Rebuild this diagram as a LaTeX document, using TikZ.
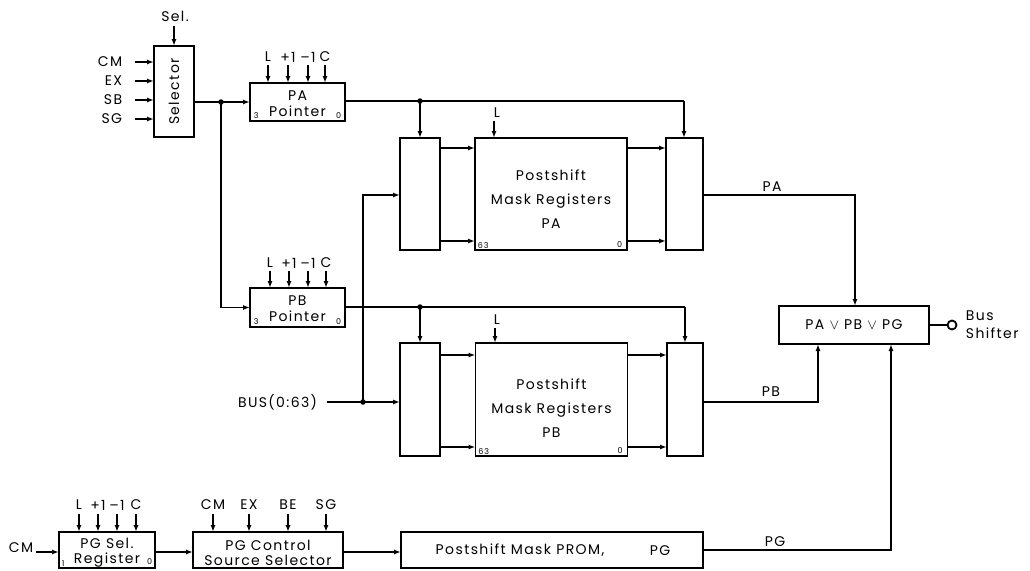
\documentclass[tikz,border=0pt]{standalone}
\usepackage{fontspec}
\setmainfont{Poppins}[LetterSpace=10]
\usetikzlibrary{arrows.meta,calc}
\begin{document}
\begin{tikzpicture}[x=1pt,y=-1pt,
  line width=1.8pt,
  box/.style={draw, line width=1.8pt, inner sep=0pt, outer sep=0pt, align=center,
    font=\fontsize{14}{16}\selectfont},
  arr/.style={-{Latex[length=7pt,width=5pt]}, line width=1.8pt},
  ln/.style={line width=1.8pt},
  lbl/.style={font=\fontsize{14}{16}\selectfont, inner sep=0pt, align=center},
  small/.style={font=\fontsize{8}{8}\selectfont, inner sep=0pt},
  dot/.style={circle, fill, inner sep=0pt, minimum size=5.5pt},
  ring/.style={circle, draw, line width=1.8pt, inner sep=0pt, minimum size=9pt}]
\useasboundingbox (0,0) rectangle (1030,570);

% ---------------- Selector ----------------
\node[box, minimum width=40pt, minimum height=91pt] (sel) at (174,91.5) {};
\node[lbl, rotate=90] (seltxt) at (sel) {Selector};
\node[lbl] (sellbl) at (175,16) {Sel.};
\draw[arr] ([yshift=-4pt]sellbl.south -| sel.north) -- (sel.north);
\foreach \lab/\yy in {CM/62,EX/81,SB/100,SG/119}{
  \node[lbl, anchor=east] (in\lab) at (123,\yy) {\lab};
  \draw[arr] ([xshift=12pt]in\lab.east) -- (in\lab.east -| sel.west);
}

% ---------------- PA pointer ----------------
\node[box, minimum width=95pt, minimum height=38pt] (paptr) at (297.5,102) {};
\node[lbl, font=\fontsize{14}{16}\selectfont] (paptrtxt) at (297.5,104) {PA\\Pointer};
\node[small, anchor=south west] (pa3) at ([shift={(3pt,2pt)}]paptr.south west) {3};
\node[small, anchor=south east] (pa0) at ([shift={(-3pt,2pt)}]paptr.south east) {0};
\foreach \lab/\xx/\k in {L/268/a,+1/288/b,–1/308/c,C/325/d}{
  \node[lbl] (pain\k) at (\xx,57) {\lab};
  \draw[arr] (\xx,65) -- (\xx,0 |- paptr.north);
}

% ---------------- PB pointer ----------------
\node[box, minimum width=95pt, minimum height=39pt] (pbptr) at (297.5,307.5) {};
\node[lbl, font=\fontsize{14}{16}\selectfont] (pbptrtxt) at (297.5,309) {PB\\Pointer};
\node[small, anchor=south west] (pb3) at ([shift={(3pt,2pt)}]pbptr.south west) {3};
\node[small, anchor=south east] (pb0) at ([shift={(-3pt,2pt)}]pbptr.south east) {0};
\foreach \lab/\xx/\k in {L/270/a,+1/289/b,–1/308/c,C/326/d}{
  \node[lbl] (pbin\k) at (\xx,263) {\lab};
  \draw[arr] (\xx,271) -- (\xx,0 |- pbptr.north);
}

% ---------------- Register group A ----------------
\node[box, minimum width=40pt, minimum height=112pt] (muxA1) at (420,194) {};
\node[box, minimum width=152pt, minimum height=112pt] (regA) at (551,194) {};
\node[box, minimum width=37pt, minimum height=112pt] (muxA2) at (684.5,194) {};
\node[lbl, font=\fontsize{14}{24}\selectfont] (regAtxt) at (551,199) {Postshift\\Mask Registers\\PA};
\node[small, anchor=south west] (regA63) at ([shift={(2pt,1pt)}]regA.south west) {63};
\node[small, anchor=south east] (regA0) at ([shift={(-4pt,2pt)}]regA.south east) {0};
\node[lbl] (regAL) at (497,113) {L};
\draw[arr] (494,121) -- (494,0 |- regA.north);
\draw[arr] (muxA1.east |- 0,148) -- (regA.west |- 0,148);
\draw[arr] (muxA1.east |- 0,241) -- (regA.west |- 0,241);
\draw[arr] (regA.east |- 0,148) -- (muxA2.west |- 0,148);
\draw[arr] (regA.east |- 0,241) -- (muxA2.west |- 0,241);

% ---------------- Register group B ----------------
\node[box, minimum width=40pt, minimum height=113pt] (muxB1) at (420,399.5) {};
\node[box, minimum width=152pt, minimum height=113pt] (regB) at (551.5,399.5) {};
\node[box, minimum width=36pt, minimum height=113pt] (muxB2) at (685,399.5) {};
\node[lbl, font=\fontsize{14}{24}\selectfont] (regBtxt) at (551.5,408) {Postshift\\Mask Registers\\PB};
\node[small, anchor=south west] (regB63) at ([shift={(2pt,1pt)}]regB.south west) {63};
\node[small, anchor=south east] (regB0) at ([shift={(-4pt,2pt)}]regB.south east) {0};
\node[lbl] (regBL) at (497,320) {L};
\draw[arr] (495,328) -- (495,0 |- regB.north);
\draw[arr] (muxB1.east |- 0,355) -- (regB.west |- 0,355);
\draw[arr] (muxB1.east |- 0,447) -- (regB.west |- 0,447);
\draw[arr] (regB.east |- 0,355) -- (muxB2.west |- 0,355);
\draw[arr] (regB.east |- 0,447) -- (muxB2.west |- 0,447);

% ---------------- Selector -> pointers ----------------
\coordinate (j1) at (221,102);
\draw[arr] (sel.east |- j1) -- (paptr.west |- j1);
\draw[arr] (j1) -- (j1 |- pbptr.west) -- (pbptr.west);
\node[dot] (j1d) at (j1) {};

% ---------------- PA pointer outputs ----------------
\coordinate (j2) at (420,101);
\coordinate (ca) at (684,101);
\draw[ln] (paptr.east |- j2) -- (ca);
\draw[arr] (ca) -- (ca |- muxA2.north);
\draw[arr] (j2) -- (muxA1.north);
\node[dot] (j2d) at (j2) {};

% ---------------- PB pointer outputs ----------------
\coordinate (j4) at (420,307);
\coordinate (cb) at (685,307);
\draw[ln] (pbptr.east |- j4) -- (cb);
\draw[arr] (cb) -- (muxB2.north);
\draw[arr] (j4) -- (muxB1.north);
\node[dot] (j4d) at (j4) {};

% ---------------- BUS ----------------
\node[lbl, anchor=east] (bus) at (318,402) {BUS(0:63)};
\coordinate (j3) at (363,402);
\coordinate (j3t) at (363,195);
\draw[arr] ([xshift=9pt]bus.east) -- (muxB1.west |- j3);
\draw[arr] (j3) -- (j3t) -- (muxA1.west |- j3t);
\node[dot] (j3d) at (j3) {};

% ---------------- OR box ----------------
\node[box, minimum width=150pt, minimum height=38pt] (orbox) at (854,325) {PA $\vee$ PB $\vee$ PG};
\node[ring] (bs) at (952,325) {};
\draw[ln] (orbox.east) -- (bs.west);
\node[lbl, anchor=west] (bus1) at (965,316) {Bus};
\node[lbl, anchor=west] (bus2) at (965,333) {Shifter};

\coordinate (cpa) at (855,195);
\coordinate (cpb) at (818,402);
\draw[arr] (muxA2.east |- cpa) -- (cpa) -- (cpa |- orbox.north);
\node[lbl] (laPA) at (772,187) {PA};
\draw[arr] (muxB2.east |- cpb) -- (cpb) -- (cpb |- orbox.south);
\node[lbl] (laPB) at (771,392) {PB};

% ---------------- PG row ----------------
\node[box, minimum width=96pt, minimum height=36pt] (pgsel) at (107,550) {};
\node[lbl, font=\fontsize{14}{15}\selectfont] (pgseltxt) at (107,553) {PG Sel.\\Register};
\node[small, anchor=south west] (pgs1) at ([shift={(2pt,1pt)}]pgsel.south west) {1};
\node[small, anchor=south east] (pgs0) at ([shift={(-2pt,3pt)}]pgsel.south east) {0};
\foreach \lab/\xx/\k in {L/79/a,+1/98/b,–1/117/c,C/136/d}{
  \node[lbl] (pgin\k) at (\xx,505) {\lab};
  \draw[arr] (\xx,514) -- (\xx,0 |- pgsel.north);
}
\node[lbl] (cmin) at (21,548) {CM};
\coordinate (rowy) at (0,552);
\draw[arr] ([xshift=2pt]cmin.east |- rowy) -- (pgsel.west |- rowy);

\node[box, minimum width=150pt, minimum height=36pt] (pgctl) at (268,550) {};
\node[lbl, font=\fontsize{14}{15}\selectfont] (pgctltxt) at (268,553) {PG Control\\Source Selector};
\foreach \lab/\xx/\k in {CM/213/a,EX/249/b,BE/288/c,SG/326/d}{
  \node[lbl] (pcin\k) at (\xx,505) {\lab};
  \draw[arr] (\xx,514) -- (\xx,0 |- pgctl.north);
}
\draw[arr] (pgsel.east |- rowy) -- (pgctl.west |- rowy);

\node[box, minimum width=302pt, minimum height=36pt] (prom) at (552,550) {};
\node[lbl] (promtxt) at (520,550) {Postshift Mask PROM,};
\node[lbl] (promPG) at (660,551) {PG};
\draw[arr] (pgctl.east |- rowy) -- (prom.west |- rowy);

\coordinate (cpg) at (891,550);
\draw[arr] (prom.east |- cpg) -- (cpg) -- (cpg |- orbox.south);
\node[lbl] (laPG) at (775,542) {PG};
\end{tikzpicture}
\end{document}
